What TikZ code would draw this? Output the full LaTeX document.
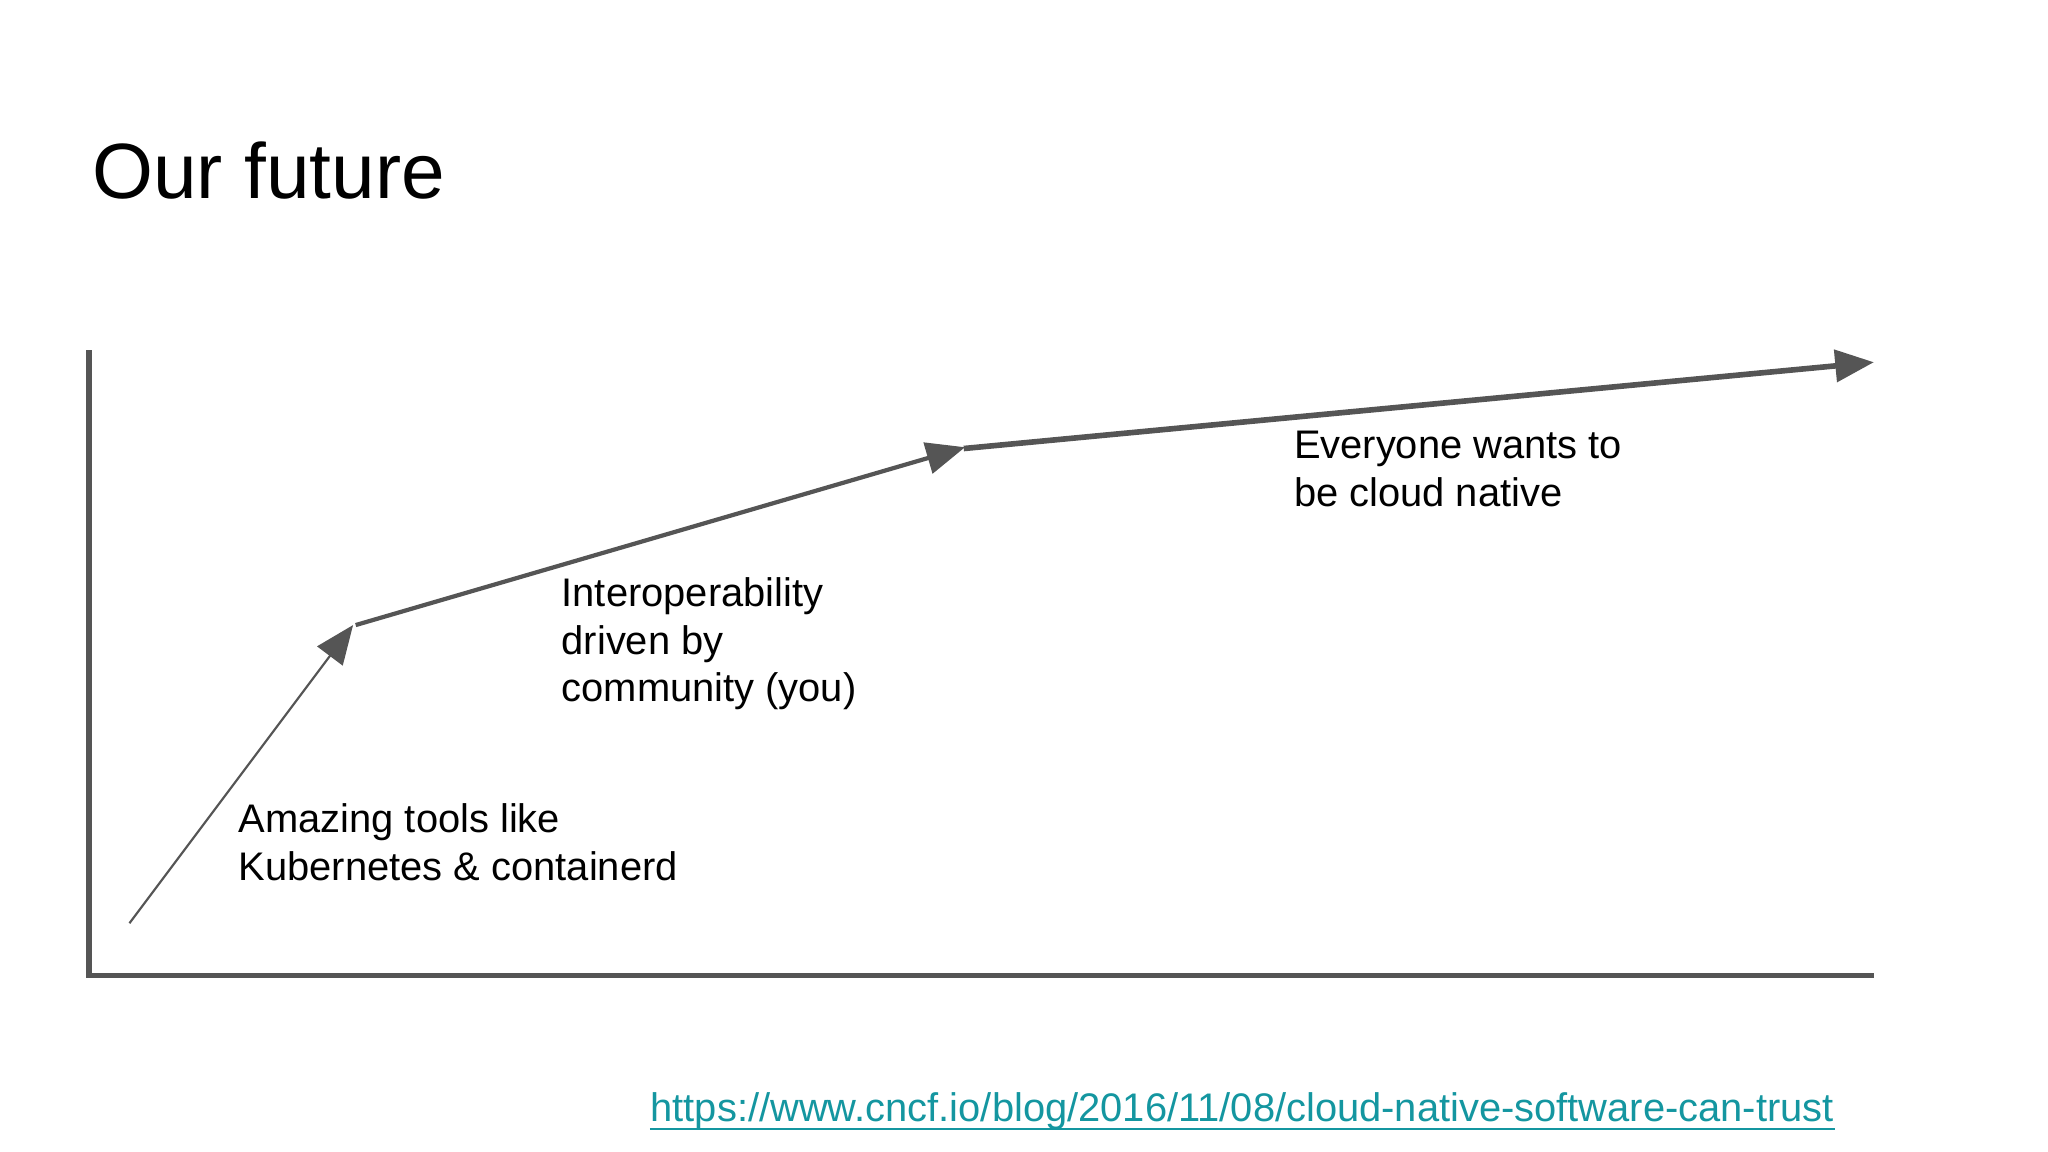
\documentclass[tikz,border=0pt]{standalone}
\usepackage{fontspec}
\setmainfont{Liberation Sans}
\usetikzlibrary{arrows.meta}
\definecolor{ln}{RGB}{85,85,85}
\definecolor{urlc}{RGB}{20,150,160}
\begin{document}
\begin{tikzpicture}[x=0.01307cm,y=-0.01307cm,
  axis/.style={draw=ln,line width=1.6pt},
  seg/.style={draw=ln,-{Triangle[length=11pt,width=9pt]}},
  lbl/.style={anchor=north west,inner sep=0pt,align=left,font=\fontsize{11.35pt}{13.6pt}\selectfont}]
\useasboundingbox (0cm,0cm) rectangle (20.48cm,-11.52cm);
\node[anchor=base west,inner sep=0pt,font=\fontsize{22.3pt}{26pt}\selectfont] (title) at (70,152) {Our future};
\coordinate (top) at (68,268);
\coordinate (orig) at (68,746);
\coordinate (xend) at (1433,746);
\draw[axis] (top) -- (orig) -- (xend);
\coordinate (p0) at (99,706);
\coordinate (p1) at (270,478);
\coordinate (q0) at (272,478);
\coordinate (q1) at (738,342);
\coordinate (r0) at (737,343);
\coordinate (r1) at (1433,277);
\draw[seg,line width=0.6pt] (p0) -- (p1);
\draw[seg,line width=1.2pt] (q0) -- (q1);
\draw[seg,line width=1.6pt] (r0) -- (r1);
\node[lbl] (t1) at (182,614) {Amazing tools like\\Kubernetes \& containerd};
\node[lbl] (t2) at (429,441) {Interoperability\\driven by\\community (you)};
\node[lbl] (t3) at (989,329) {Everyone wants to\\be cloud native};
\node[anchor=base west,inner sep=0pt,text=urlc,font=\fontsize{11.35pt}{13.6pt}\selectfont] (url) at (497,858) {https://www.cncf.io/blog/2016/11/08/cloud-native-software-can-trust};
\draw[urlc,line width=0.5pt] ([yshift=-2pt]url.base west) -- ([yshift=-2pt]url.base east);
\end{tikzpicture}
\end{document}
